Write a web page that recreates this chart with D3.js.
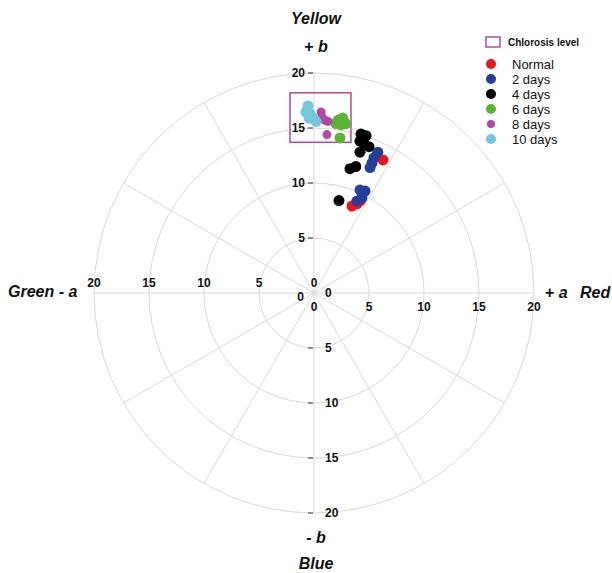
<!DOCTYPE html>
<html>
<head>
<meta charset="utf-8">
<script src="https://cdn.jsdelivr.net/npm/d3@7"></script>
<style>
  body { margin: 0; background: #fff; }
  text { font-family: "Liberation Sans", Arial, sans-serif; }
</style>
</head>
<body>
<div id="chart"></div>
<script>
const width = 612;
const height = 573;

const cx = 314;
const cy = 293;
const maxR = 20;
const radius = 220;

// series: [a*, b*]
const normal = [[6.27, 12.1], [3.45, 7.9], [3.9, 8.1], [4.2, 8.4]];
const days2 = [[5.8, 12.8], [5.45, 12.3], [5.27, 11.8], [5.1, 11.4], [4.18, 9.36], [4.64, 9.27], [4.36, 8.64], [3.9, 8.36]];
const days4 = [[4.27, 14.45], [4.73, 14.3], [4.18, 13.8], [4.55, 13.6], [5.0, 13.3], [4.18, 12.8], [3.27, 11.3], [3.8, 11.5], [2.27, 8.4]];
const days6 = [[2.18, 15.7], [2.6, 15.9], [2.9, 15.4], [2.45, 15.3], [2.0, 15.4], [2.36, 14.1]];
const days8 = [[0.64, 16.45], [0.73, 16.0], [1.0, 15.7], [1.27, 15.6], [1.18, 14.4]];
const days10 = [[-0.55, 17.0], [-0.73, 16.45], [-0.36, 16.3], [-0.09, 15.9], [0.18, 15.6], [-0.45, 15.9]];

const seriesNames = ["Normal", "2 days", "4 days", "6 days", "8 days", "10 days"];
const seriesData = [normal, days2, days4, days6, days8, days10];
const seriesColors = ["#e8161b", "#233f98", "#000000", "#5cb532", "#b5489f", "#74c7db"];

// chlorosis box: a from..to, b from..to
const boxA = [-2.18, 3.36];
const boxB = [13.7, 18.2];

const ringValues = [5, 10, 15, 20];
const tickValues = [0, 5, 10, 15, 20];
const spokeAngles = d3.range(0, 360, 30);

const svg = d3.select("#chart")
  .append("svg")
  .attr("width", width)
  .attr("height", height);

const x = d3.scaleLinear().domain([-maxR, maxR]).range([cx - radius, cx + radius]);
const y = d3.scaleLinear().domain([-maxR, maxR]).range([cy + radius, cy - radius]);
const r = d3.scaleLinear().domain([0, maxR]).range([0, radius]);

const grid = svg.append("g").attr("stroke", "#d9d9d9").attr("stroke-width", 1).attr("fill", "none");

grid.selectAll("circle")
  .data(ringValues)
  .join("circle")
  .attr("cx", x(0))
  .attr("cy", y(0))
  .attr("r", d => r(d));

grid.selectAll("line")
  .data(spokeAngles)
  .join("line")
  .attr("x1", x(0))
  .attr("y1", y(0))
  .attr("x2", d => x(maxR * Math.cos(d * Math.PI / 180)))
  .attr("y2", d => y(maxR * Math.sin(d * Math.PI / 180)));

// tick labels
const lab = svg.append("g")
  .attr("font-size", 12)
  .attr("font-weight", "bold")
  .attr("fill", "#111");

// left axis (green): above the line
lab.selectAll(".tl")
  .data(tickValues)
  .join("text")
  .attr("class", "tl")
  .attr("x", d => x(-d))
  .attr("y", y(0) - 6)
  .attr("text-anchor", "middle")
  .text(d => d);

// right axis (red): below the line
lab.selectAll(".tr")
  .data(tickValues)
  .join("text")
  .attr("class", "tr")
  .attr("x", d => x(d))
  .attr("y", y(0) + 18)
  .attr("text-anchor", "middle")
  .text(d => d);

// top axis (yellow): left of the line
lab.selectAll(".tt")
  .data(tickValues)
  .join("text")
  .attr("class", "tt")
  .attr("x", d => d === 0 ? x(0) - 10 : x(0) - 9)
  .attr("y", d => y(d) + (d === 0 ? 8 : 4))
  .attr("text-anchor", "end")
  .text(d => d);

// bottom axis (blue): right of the line
lab.selectAll(".tb")
  .data(tickValues)
  .join("text")
  .attr("class", "tb")
  .attr("x", x(0) + (0) + 11)
  .attr("y", d => y(-d) + 4)
  .attr("text-anchor", "start")
  .text(d => d);

// small ticks on the vertical axis
svg.append("g")
  .attr("stroke", "#333")
  .attr("stroke-width", 1)
  .selectAll("line")
  .data(tickValues.filter(d => d > 0).flatMap(d => [d, -d]))
  .join("line")
  .attr("x1", x(0) - 6)
  .attr("x2", x(0) - 1)
  .attr("y1", d => y(d))
  .attr("y2", d => y(d));

// axis titles
const titles = svg.append("g")
  .attr("font-weight", "bold")
  .attr("fill", "#111");

titles.append("text").attr("x", x(0) + 2).attr("y", 24).attr("text-anchor", "middle")
  .attr("font-size", 16).attr("font-style", "italic").text("Yellow");
titles.append("text").attr("x", x(0) + 2).attr("y", 52).attr("text-anchor", "middle")
  .attr("font-size", 16).html('+ <tspan font-style="italic">b</tspan>');
titles.append("text").attr("x", x(0) + 2).attr("y", 543).attr("text-anchor", "middle")
  .attr("font-size", 16).html('- <tspan font-style="italic">b</tspan>');
titles.append("text").attr("x", x(0) + 2).attr("y", 569).attr("text-anchor", "middle")
  .attr("font-size", 16).attr("font-style", "italic").text("Blue");
titles.append("text").attr("x", 8).attr("y", 297)
  .attr("font-size", 16).attr("font-style", "italic").text("Green - a");
titles.append("text").attr("x", 545).attr("y", 298)
  .attr("font-size", 16).html('+ <tspan font-style="italic">a</tspan>');
titles.append("text").attr("x", 580).attr("y", 298)
  .attr("font-size", 16).attr("font-style", "italic").text("Red");

// chlorosis box
svg.append("rect")
  .attr("x", x(boxA[0]))
  .attr("y", y(boxB[1]))
  .attr("width", x(boxA[1]) - x(boxA[0]))
  .attr("height", y(boxB[0]) - y(boxB[1]))
  .attr("fill", "none")
  .attr("stroke", "#b5489f")
  .attr("stroke-width", 1.5);

// points
const pts = svg.append("g");
seriesData.forEach((s, i) => {
  pts.append("g")
    .attr("fill", seriesColors[i])
    .selectAll("circle")
    .data(s)
    .join("circle")
    .attr("cx", d => x(d[0]))
    .attr("cy", d => y(d[1]))
    .attr("r", i === 4 ? 4.5 : 5.5);
});

// legend
const legend = svg.append("g");
legend.append("rect")
  .attr("x", 486).attr("y", 37).attr("width", 14).attr("height", 10)
  .attr("fill", "none").attr("stroke", "#b5489f").attr("stroke-width", 1.5);
legend.append("text")
  .attr("x", 508).attr("y", 46)
  .attr("font-size", 10).attr("font-weight", "bold").attr("fill", "#111")
  .text("Chlorosis level");

const items = legend.selectAll(".item")
  .data(seriesNames)
  .join("g")
  .attr("class", "item")
  .attr("transform", (d, i) => `translate(491, ${64 + i * 15})`);

items.append("circle")
  .attr("r", (d, i) => i === 4 ? 4 : 5)
  .attr("fill", (d, i) => seriesColors[i]);

items.append("text")
  .attr("x", 21)
  .attr("y", 5)
  .attr("font-size", 13)
  .attr("fill", "#111")
  .text(d => d);
</script>
</body>
</html>
